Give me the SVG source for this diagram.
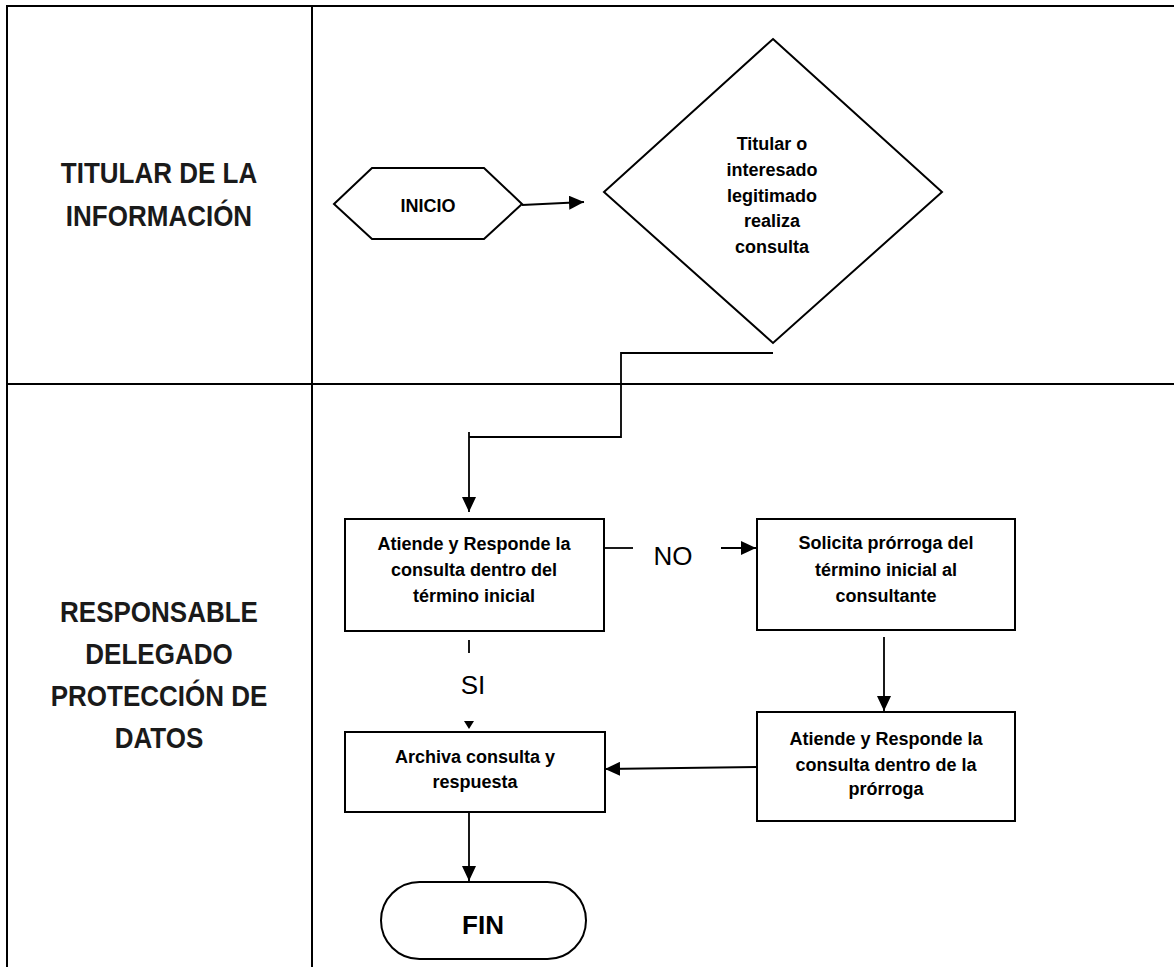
<svg xmlns="http://www.w3.org/2000/svg" width="1174" height="967" viewBox="0 0 1174 967">
<style>
.shape{fill:#fff;stroke:#000;stroke-width:2}
.grid{stroke:#000;stroke-width:2;fill:none}
.conn{stroke:#000;stroke-width:1.8;fill:none}
.t{font-family:"Liberation Sans",Arial,sans-serif;font-weight:bold;font-size:18px;fill:#000;text-anchor:middle}
.lane{font-family:"Liberation Sans",Arial,sans-serif;font-weight:bold;font-size:26px;fill:#1a1a1a;text-anchor:middle}
.lbl{font-family:"Liberation Sans",Arial,sans-serif;font-size:26px;fill:#000;text-anchor:middle}
</style>
<defs>
<marker id="ah" viewBox="0 0 15 14" refX="15" refY="7" markerWidth="15" markerHeight="14" markerUnits="userSpaceOnUse" orient="auto">
<path d="M0,0 L15,7 L0,14 z" fill="#000"/>
</marker>
</defs>
<rect width="1174" height="967" fill="#fff"/>
<g id="table">
<line class="grid" x1="7" y1="6" x2="1174" y2="6"/>
<line class="grid" x1="7" y1="5" x2="7" y2="967"/>
<line class="grid" x1="312" y1="5" x2="312" y2="967"/>
<line class="grid" x1="7" y1="384" x2="1174" y2="384"/>
</g>
<g id="lane1">
<text class="lane" transform="translate(159,183) scale(1,1.1)">TITULAR DE LA</text>
<text class="lane" transform="translate(159,226) scale(1,1.1)">INFORMACIÓN</text>
</g>
<g id="lane2">
<text class="lane" transform="translate(159,622) scale(1,1.1)">RESPONSABLE</text>
<text class="lane" transform="translate(159,664) scale(1,1.1)">DELEGADO</text>
<text class="lane" transform="translate(159,706) scale(1,1.1)">PROTECCIÓN DE</text>
<text class="lane" transform="translate(159,748) scale(1,1.1)">DATOS</text>
</g>
<g id="inicio">
<polygon class="shape" points="334,204 372,168 484,168 522,204 484,239 372,239"/>
<text class="t" x="428" y="212">INICIO</text>
</g>
<g id="consulta">
<polygon class="shape" points="773,39 942,192 773,343 604,192"/>
<text class="t" x="772" y="150">Titular o</text>
<text class="t" x="772" y="176">interesado</text>
<text class="t" x="772" y="202">legitimado</text>
<text class="t" x="772" y="227">realiza</text>
<text class="t" x="772" y="253">consulta</text>
</g>
<g id="atiende1">
<rect class="shape" x="345" y="519" width="259" height="112"/>
<text class="t" x="474" y="550">Atiende y Responde la</text>
<text class="t" x="474" y="576">consulta dentro del</text>
<text class="t" x="474" y="602">término inicial</text>
</g>
<g id="solicita">
<rect class="shape" x="757" y="519" width="258" height="111"/>
<text class="t" x="886" y="549">Solicita prórroga del</text>
<text class="t" x="886" y="576">término inicial al</text>
<text class="t" x="886" y="602">consultante</text>
</g>
<g id="atiende2">
<rect class="shape" x="757" y="712" width="258" height="109"/>
<text class="t" x="886" y="745">Atiende y Responde la</text>
<text class="t" x="886" y="771">consulta dentro de la</text>
<text class="t" x="886" y="795">prórroga</text>
</g>
<g id="archiva">
<rect class="shape" x="345" y="732" width="260" height="80"/>
<text class="t" x="475" y="763">Archiva consulta y</text>
<text class="t" x="475" y="788">respuesta</text>
</g>
<g id="fin">
<rect class="shape" x="381" y="882" width="205" height="77" rx="38.5" ry="38.5"/>
<text class="t" x="483" y="934" style="font-size:26px">FIN</text>
</g>
<g id="connectors">
<line class="conn" x1="522" y1="205" x2="584" y2="202" marker-end="url(#ah)"/>
<polyline class="conn" points="773,353 621,353 621,437 469,437"/>
<line class="conn" x1="469" y1="432" x2="469" y2="512" marker-end="url(#ah)"/>
<line class="conn" x1="604" y1="548" x2="633" y2="548"/>
<text class="lbl" x="673" y="565">NO</text>
<line class="conn" x1="721" y1="548" x2="756" y2="548" marker-end="url(#ah)"/>
<line class="conn" x1="884" y1="637" x2="884" y2="711" marker-end="url(#ah)"/>
<line class="conn" x1="757" y1="767" x2="605" y2="769" marker-end="url(#ah)"/>
<line class="conn" x1="469" y1="640" x2="469" y2="653"/>
<text class="lbl" x="473" y="694">SI</text>
<polygon points="464,721 474,721 469,729" fill="#000"/>
<line class="conn" x1="469" y1="812" x2="469" y2="881" marker-end="url(#ah)"/>
</g>
</svg>
